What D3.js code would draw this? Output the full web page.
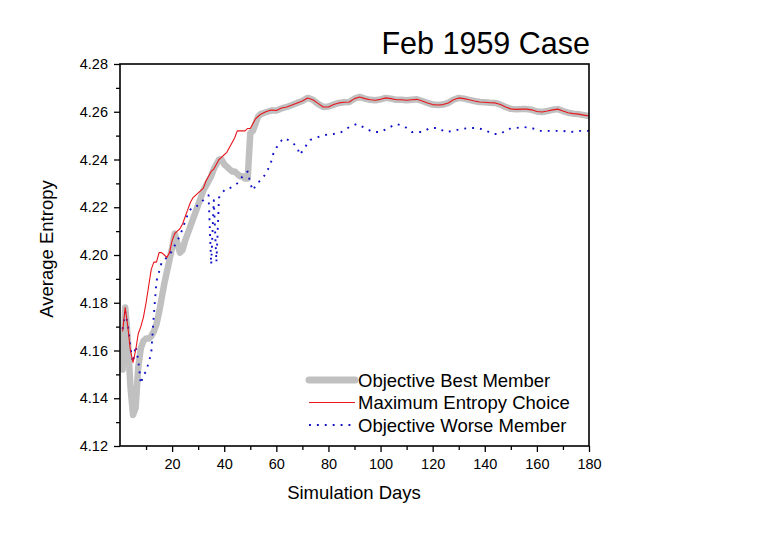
<!DOCTYPE html>
<html>
<head>
<meta charset="utf-8">
<script src="https://cdn.jsdelivr.net/npm/d3@7"></script>
<style>
  body { margin:0; background:#fff; }
  svg text { font-family: "Liberation Sans", Arial, sans-serif; fill:#000; }
</style>
</head>
<body>
<div id="chart"></div>
<script>
// ---- data ----
var bestDays = [1,2,3,4,5,6,7,8,9,10,11,12,13,14,15,16,17,18,19,20,21,22,23,24,25,26,27,28,29,30,31,32,33,34,35,36,37,38,39,40,41,42,43,44,45,46,47,48,49,50,51,52,53,54,56,58,60,62,64,66,68,70,72,74,76,78,80,82,84,86,88,90,92,94,96,98,100,102,104,106,108,110,112,114,116,118,120,122,124,126,128,130,132,134,136,138,140,142,144,146,148,150,152,154,156,158,160,162,164,166,168,170,172,174,176,178,180];
var bestVals = [4.152,4.178,4.165,4.145,4.133,4.136,4.153,4.161,4.164,4.165,4.165,4.166,4.168,4.171,4.176,4.182,4.188,4.193,4.198,4.203,4.209,4.205,4.201,4.202,4.206,4.209,4.212,4.215,4.218,4.221,4.224,4.227,4.229,4.231,4.233,4.236,4.238,4.240,4.240,4.238,4.237,4.236,4.235,4.235,4.234,4.233,4.233,4.232,4.232,4.251,4.252,4.255,4.258,4.259,4.2598,4.2605,4.2605,4.2614,4.2620,4.2628,4.2637,4.2645,4.2658,4.2650,4.2633,4.2620,4.2622,4.2630,4.2637,4.2640,4.2641,4.2655,4.2662,4.2655,4.2650,4.2648,4.2652,4.2658,4.2655,4.2650,4.2650,4.2648,4.2650,4.2652,4.2645,4.2637,4.2630,4.2628,4.2630,4.2637,4.2650,4.2658,4.2655,4.2650,4.2645,4.2641,4.2640,4.2638,4.2637,4.2630,4.2620,4.2612,4.2610,4.2611,4.2611,4.2608,4.2601,4.2599,4.2603,4.2608,4.2611,4.2603,4.2596,4.2592,4.2590,4.2586,4.2582];

var maxDays = [1,2,3,4,5,6,7,8,9,10,11,12,13,14,15,16,17,18,19,20,21,22,23,24,25,26,27,28,29,30,31,32,33,34,35,36,37,38,39,40,41,42,43,44,45,46,47,48,49,50,51,52,53,54,56,58,60,62,64,66,68,70,72,74,76,78,80,82,84,86,88,90,92,94,96,98,100,102,104,106,108,110,112,114,116,118,120,122,124,126,128,130,132,134,136,138,140,142,144,146,148,150,152,154,156,158,160,162,164,166,168,170,172,174,176,178,180];
var maxVals = [4.168,4.178,4.170,4.160,4.155,4.160,4.167,4.170,4.174,4.180,4.187,4.194,4.197,4.197,4.201,4.201,4.200,4.199,4.201,4.206,4.209,4.210,4.211,4.213,4.216,4.219,4.222,4.224,4.225,4.226,4.227,4.228,4.231,4.233,4.235,4.236,4.238,4.240,4.241,4.242,4.243,4.245,4.247,4.249,4.252,4.252,4.252,4.252,4.253,4.253,4.255,4.257,4.258,4.259,4.2600,4.2607,4.2605,4.2616,4.2620,4.2628,4.2637,4.2645,4.2658,4.2650,4.2635,4.2620,4.2620,4.2630,4.2637,4.2640,4.2641,4.2655,4.2662,4.2655,4.2650,4.2648,4.2652,4.2658,4.2655,4.2650,4.2650,4.2648,4.2650,4.2652,4.2645,4.2637,4.2630,4.2628,4.2630,4.2637,4.2650,4.2658,4.2655,4.2650,4.2645,4.2641,4.2640,4.2638,4.2637,4.2630,4.2620,4.2612,4.2610,4.2611,4.2611,4.2608,4.2601,4.2599,4.2603,4.2608,4.2611,4.2603,4.2596,4.2592,4.2590,4.2586,4.2582];

var worseDays = [1,2,3,4,5,6,7,8,9,10,11,12,13,14,15,16,17,18,19,20,21,22,23,24,25,26,27,28,29,30,31,32,33,34,35,36,37,38,39,40,41,42,43,44,45,46,47,48,49,50,51,52,53,54,55,56,57,58,59,60,61,62,63,64,66,68,69,70,71,73,76,79,82,85,88,91,94,97,100,103,106,109,112,116,119,122,125,128,131,134,137,140,143,146,149,152,155,158,161,164,167,170,173,176,180];
var worseVals = [4.169,4.176,4.171,4.161,4.155,4.162,4.156,4.146,4.150,4.151,4.155,4.159,4.175,4.189,4.193,4.197,4.198,4.199,4.200,4.202,4.204,4.206,4.208,4.211,4.214,4.217,4.219,4.220,4.220,4.221,4.222,4.223,4.224,4.225,4.196,4.223,4.197,4.224,4.226,4.227,4.228,4.228,4.2285,4.229,4.230,4.231,4.233,4.234,4.235,4.230,4.227,4.229,4.2306,4.231,4.2327,4.234,4.2364,4.239,4.2431,4.245,4.246,4.248,4.249,4.2485,4.2473,4.2452,4.2419,4.2435,4.2452,4.2482,4.2494,4.2503,4.2507,4.2515,4.2536,4.2549,4.2532,4.2515,4.2515,4.2532,4.2549,4.2540,4.2515,4.2515,4.2532,4.2532,4.2515,4.2520,4.2528,4.2532,4.2532,4.2524,4.2507,4.2507,4.2528,4.2532,4.2536,4.2532,4.2520,4.2520,4.2520,4.2520,4.2515,4.2520,4.2520];

var xMajor = [20,40,60,80,100,120,140,160,180];
var xMinor = [10,30,50,70,90,110,130,150,170];
var yMajor = [4.12,4.14,4.16,4.18,4.20,4.22,4.24,4.26,4.28];
var yMinor = [4.13,4.15,4.17,4.19,4.21,4.23,4.25,4.27];

var seriesNames = ["Objective Best Member","Maximum Entropy Choice","Objective Worse Member"];

var width = 763, height = 540;
var svg = d3.select("#chart").append("svg").attr("width", width).attr("height", height);

var x = d3.scaleLinear().domain([0,180]).range([120,589]);
var y = d3.scaleLinear().domain([4.12,4.28]).range([446,64]);

function zipped(days, vals){
    return days.map(function(d,i){ return [d, vals[i]]; });
}
var line = d3.line().x(function(d){ return x(d[0]); }).y(function(d){ return y(d[1]); });

var styles = [
    {color:"#c0c0c0", w:6.5, dash:null},
    {color:"#e8151b", w:1.1, dash:null},
    {color:"#1010c8", w:1.9, dash:"1.9,6"}
];
var data = [zipped(bestDays,bestVals), zipped(maxDays,maxVals), zipped(worseDays,worseVals)];

var plot = svg.append("g");
plot.append("defs").append("clipPath").attr("id","clip")
    .append("rect").attr("x",120).attr("y",64).attr("width",469).attr("height",382);

var lines = plot.append("g").attr("clip-path","url(#clip)");
[0,2,1].forEach(function(i){
    lines.append("path")
        .attr("d", line(data[i]))
        .attr("fill","none")
        .attr("stroke", styles[i].color)
        .attr("stroke-width", styles[i].w)
        .attr("stroke-linejoin","round")
        .attr("stroke-linecap", i===0 ? "round" : "butt")
        .attr("stroke-dasharray", styles[i].dash);
});

// axes
var xAxis = d3.axisBottom(x).tickValues(xMajor).tickSize(6).tickPadding(7).tickFormat(d3.format("d"));
var yAxis = d3.axisLeft(y).tickValues(yMajor).tickSize(6).tickPadding(6).tickFormat(d3.format(".2f"));

var gx = svg.append("g").attr("transform","translate(0,446)").call(xAxis);
var gy = svg.append("g").attr("transform","translate(120,0)").call(yAxis);
svg.append("g").attr("transform","translate(0,446)")
    .call(d3.axisBottom(x).tickValues(xMinor).tickSize(4).tickFormat(""))
    .select(".domain").remove();
svg.append("g").attr("transform","translate(120,0)")
    .call(d3.axisLeft(y).tickValues(yMinor).tickSize(4).tickFormat(""))
    .select(".domain").remove();

svg.selectAll(".tick line").attr("stroke","#000").attr("stroke-width",1.3);
gx.select(".domain").remove();
gy.select(".domain").remove();
svg.selectAll(".tick text").style("font-size","14.5px");

// frame
svg.append("rect").attr("x",120).attr("y",64).attr("width",469).attr("height",382)
    .attr("fill","none").attr("stroke","#000").attr("stroke-width",1.6);

// titles
svg.append("text").attr("x",590).attr("y",54).attr("text-anchor","end")
    .style("font-size","30.5px").text("Feb 1959 Case");
svg.append("text").attr("x",354).attr("y",499).attr("text-anchor","middle")
    .style("font-size","18.5px").text("Simulation Days");
svg.append("text").attr("transform","translate(53,249) rotate(-90)").attr("text-anchor","middle")
    .style("font-size","18.5px").text("Average Entropy");

// legend
var legend = svg.append("g");
seriesNames.forEach(function(name,i){
    var ly = 380 + i*22.5;
    legend.append("line").attr("x1",309).attr("x2",355).attr("y1",ly).attr("y2",ly)
        .attr("stroke",styles[i].color)
        .attr("stroke-width", i===0 ? 7 : styles[i].w)
        .attr("stroke-linecap", i===0 ? "round" : "butt")
        .attr("stroke-dasharray", styles[i].dash);
    legend.append("text").attr("x",358).attr("y",ly+6.5)
        .style("font-size","18.5px").text(name);
});
</script>
</body>
</html>
